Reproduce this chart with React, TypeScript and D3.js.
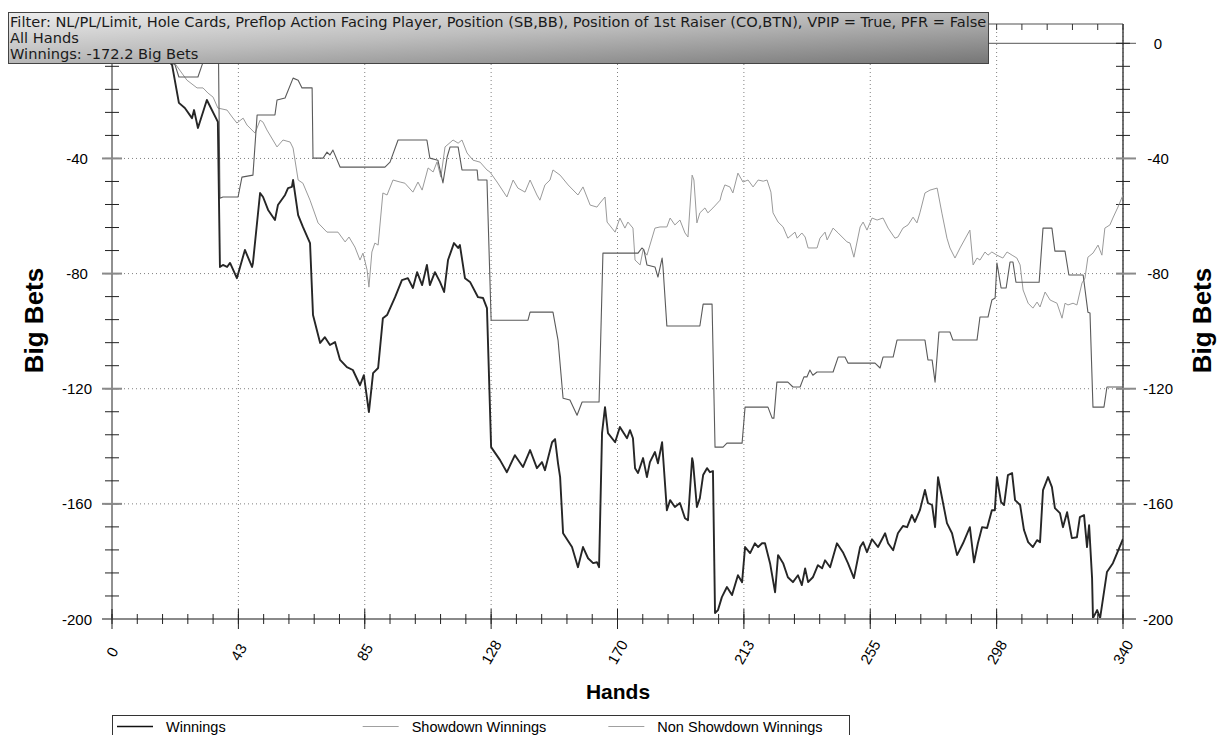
import React from "react";
import * as d3 from "d3";

type P = [number, number];

const headerLines = [
  "Filter: NL/PL/Limit, Hole Cards, Preflop Action Facing Player, Position (SB,BB), Position of 1st Raiser (CO,BTN), VPIP = True, PFR = False",
  "All Hands",
  "Winnings: -172.2 Big Bets",
];

const xTickValues = [0, 42.5, 85, 127.5, 170, 212.5, 255, 297.5, 340];
const xTickLabels = ["0", "43", "85", "128", "170", "213", "255", "298", "340"];
const yTickValues = [0, -40, -80, -120, -160, -200];
const yTickLabels = ["0", "-40", "-80", "-120", "-160", "-200"];

const seriesNames = ["Winnings", "Showdown Winnings", "Non Showdown Winnings"];

const winnings: P[] = [
  [0, 0], [4, 3], [8, -1], [12, 2], [16, -3], [20.2, -7.5], [22.5, -20.7], [24.5, -22.5], [26.9, -26.0],
  [27.6, -23.2], [28.9, -29.4], [31.9, -19.7], [35.6, -27.3], [36.3, -77.7], [37.3, -77.0], [38.7, -77.7],
  [39.7, -76.3], [42.0, -81.6], [44.7, -71.8], [47.1, -77.7], [47.4, -76.3], [49.8, -52.0], [50.8, -53.4],
  [52.5, -57.9], [54.8, -61.4], [55.8, -56.2], [58.2, -52.7], [59.2, -50.3], [60.5, -49.9], [60.9, -47.5],
  [62.6, -59.7], [64.2, -63.8], [66.6, -69.4], [67.6, -94.4], [70.0, -104.1], [71.6, -102.1], [73.3, -104.8],
  [75.0, -103.8], [76.7, -110.0], [79.0, -112.5], [81.0, -113.5], [83.4, -118.8], [84.7, -115.3],
  [86.4, -128.1], [87.8, -114.6], [89.5, -112.8], [91.1, -95.5], [92.5, -94.4], [95.2, -88.2], [97.5, -82.3],
  [99.5, -81.6], [101.2, -85.0], [102.6, -79.5], [104.3, -84.0], [105.9, -77.0], [106.9, -84.0],
  [108.6, -79.5], [110.3, -82.9], [111.7, -86.4], [113.0, -75.3], [115.0, -69.4], [116.4, -71.1],
  [117.0, -70.1], [118.7, -81.6], [120.4, -82.9], [123.1, -88.2], [124.8, -88.5], [126.1, -92.0],
  [127.5, -140.3], [130.5, -144.8], [132.8, -149.0], [135.5, -143.1], [138.2, -147.2], [140.6, -141.3],
  [142.9, -147.6], [144.6, -145.5], [145.6, -148.3], [148.0, -138.6], [149.0, -137.5], [150.0, -145.9],
  [150.7, -150.7], [151.7, -170.2], [154.7, -175.0], [156.7, -182.0], [158.4, -175.0], [160.1, -178.9],
  [161.8, -180.6], [163.1, -180.3], [163.8, -182.0], [164.8, -135.4], [165.8, -126.4], [166.8, -135.4],
  [169.2, -138.6], [170.8, -133.3], [173.2, -137.2], [174.2, -134.4], [175.2, -137.2], [175.9, -147.6],
  [176.9, -149.3], [178.6, -144.1], [179.9, -150.7], [180.9, -145.5], [182.6, -142.0], [183.6, -145.9],
  [185.0, -138.6], [186.6, -162.2], [187.7, -158.7], [189.3, -161.1], [191.0, -159.7], [192.7, -165.0],
  [193.7, -165.7], [195.1, -144.1], [195.4, -145.5], [196.7, -161.1], [197.7, -158.0], [198.8, -150.0],
  [200.1, -147.6], [201.1, -149.0], [202.1, -148.6], [202.8, -197.9], [203.8, -196.9], [205.1, -192.4],
  [206.8, -188.9], [208.5, -191.7], [210.5, -184.8], [211.9, -187.2], [212.9, -175.0], [214.6, -177.1],
  [216.2, -173.7], [217.3, -175.0], [218.6, -173.7], [219.6, -173.7], [221.3, -180.6], [223.0, -190.7],
  [224.0, -177.8], [225.7, -180.6], [227.3, -185.5], [229.0, -187.2], [230.7, -184.8], [232.0, -188.2],
  [233.1, -182.4], [234.1, -187.2], [235.7, -185.5], [237.4, -181.3], [238.8, -182.4], [239.8, -179.6],
  [241.5, -182.0], [243.8, -173.7], [245.8, -176.8], [247.5, -180.6], [249.5, -185.8], [251.6, -175.0],
  [252.6, -173.3], [253.9, -176.8], [255.6, -172.3], [257.6, -175.0], [260.0, -170.2], [261.0, -173.7],
  [262.7, -176.1], [264.3, -170.2], [266.0, -167.7], [267.4, -168.1], [269.0, -163.9], [270.0, -166.3],
  [271.7, -162.2], [273.4, -155.2], [274.4, -159.7], [275.8, -160.4], [276.8, -168.1], [277.8, -150.7],
  [279.1, -157.7], [280.8, -166.7], [282.5, -170.2], [284.2, -177.8], [286.2, -173.7], [288.5, -168.1],
  [289.9, -180.3], [291.2, -173.7], [292.6, -168.1], [294.3, -168.4], [295.9, -162.2], [296.9, -162.2],
  [297.6, -150.7], [299.0, -159.4], [300.0, -160.4], [301.3, -150.0], [302.7, -149.3], [303.7, -158.7],
  [305.4, -160.4], [306.7, -169.1], [308.1, -173.3], [309.7, -175.0], [311.1, -172.6], [312.1, -173.3],
  [313.1, -155.2], [314.8, -150.7], [316.1, -154.2], [317.1, -161.5], [318.8, -163.2], [319.8, -168.1],
  [321.2, -162.9], [322.8, -171.9], [324.5, -171.6], [325.5, -164.6], [326.9, -163.9], [327.9, -175.0],
  [328.6, -167.4], [329.6, -185.8], [329.9, -199.7], [331.3, -196.9], [332.3, -199.7], [334.6, -183.7],
  [336.6, -180.6], [340, -172.2],
];

const showdown: P[] = [
  [0, 0], [8, 0], [14, -3], [21.2, -7.5], [22.5, -11.7], [28.9, -11.7], [30.3, -7.5], [32, -3], [35.8, -3],
  [36.3, -53.8], [37.3, -53.4], [42.4, -53.4], [43.7, -46.5], [47.4, -45.8], [48.8, -24.9], [54.8, -24.9],
  [55.5, -19.7], [58.2, -19.0], [60.9, -12.1], [62.6, -12.8], [63.9, -15.5], [67.3, -15.5], [67.6, -39.9],
  [71.0, -39.9], [72.3, -37.8], [73.3, -38.8], [74.3, -37.1], [76.7, -43.0], [91.8, -43.0], [93.5, -41.3],
  [96.2, -33.6], [105.9, -33.6], [106.9, -39.9], [109.6, -40.6], [111.3, -48.5], [112.7, -39.5],
  [113.7, -36.0], [116.4, -36.0], [117.7, -44.0], [122.8, -44.0], [123.1, -47.5], [126.1, -47.5],
  [127.5, -96.2], [139.9, -96.2], [140.6, -93.4], [148.3, -93.4], [150.0, -103.1], [151.7, -123.3],
  [154.0, -123.9], [156.4, -129.2], [158.1, -124.6], [163.8, -124.6], [165.1, -72.9], [176.9, -72.9],
  [178.2, -71.1], [178.9, -71.8], [179.9, -77.0], [182.6, -77.7], [183.6, -81.2], [185.0, -74.6],
  [185.3, -77.7], [186.6, -98.2], [197.7, -98.2], [198.8, -90.6], [201.8, -90.6], [202.8, -140.3],
  [205.5, -140.3], [206.8, -138.9], [211.9, -138.9], [212.9, -126.4], [220.6, -126.4], [222.0, -130.2],
  [222.6, -130.2], [223.6, -117.7], [227.3, -117.7], [229.0, -119.4], [231.4, -119.4], [232.7, -115.9],
  [233.7, -115.9], [234.7, -113.5], [235.7, -115.3], [237.1, -114.2], [242.5, -114.2], [244.2, -109.0],
  [246.5, -109.0], [247.5, -111.1], [256.6, -111.1], [258.3, -112.8], [259.3, -109.0], [262.7, -109.0],
  [264.0, -103.1], [273.4, -103.1], [274.4, -110.0], [275.8, -110.0], [276.8, -117.7], [278.1, -100.3],
  [281.8, -100.3], [282.8, -103.1], [290.9, -103.1], [291.9, -95.1], [294.6, -95.1], [295.9, -89.2],
  [297.0, -88.5], [297.6, -76.3], [299.0, -85.0], [300.7, -85.0], [302.0, -76.0], [303.0, -76.0],
  [304.0, -83.0], [311.8, -83.0], [313.1, -64.2], [316.1, -64.2], [317.1, -72.2], [320.5, -72.2],
  [321.8, -80.5], [326.6, -80.5], [328.2, -93.4], [328.9, -93.7], [329.9, -126.4], [333.6, -126.4],
  [334.6, -119.4], [340, -119.4],
];

const nonShowdown: P[] = [
  [0, 0], [5, 2], [10, -1], [15, 1], [21.5, -7.5], [25.2, -12.8], [28.6, -15.5], [30.6, -15.5],
  [32.3, -17.3], [34.0, -18.7], [35.6, -22.5], [38.7, -23.2], [40.4, -25.6], [42.0, -27.7], [44.1, -26.0],
  [45.4, -28.4], [48.1, -31.2], [49.8, -26.7], [50.8, -27.4], [52.1, -30.1], [55.5, -36.0], [57.5, -33.6],
  [59.9, -34.3], [60.9, -36.4], [62.6, -47.5], [64.2, -48.6], [66.6, -54.5], [69.3, -62.4], [72.3, -65.6],
  [76.0, -65.6], [78.4, -69.0], [79.7, -67.3], [81.7, -70.8], [83.4, -75.3], [84.4, -72.9], [85.8, -78.8],
  [86.4, -84.7], [87.4, -72.5], [88.4, -69.4], [89.5, -70.1], [91.1, -52.0], [92.5, -52.7], [94.5, -47.5],
  [96.9, -48.2], [98.5, -48.6], [101.2, -51.7], [102.9, -48.2], [104.3, -51.0], [106.3, -43.3],
  [108.0, -44.7], [109.3, -41.2], [110.6, -46.5], [112.0, -36.0], [114.7, -33.6], [116.4, -34.7],
  [117.7, -33.6], [119.4, -38.1], [121.4, -40.6], [123.8, -41.3], [126.1, -44.0], [127.1, -44.7],
  [129.5, -48.2], [132.8, -53.4], [134.9, -47.5], [136.5, -50.3], [138.9, -51.7], [140.6, -47.5],
  [142.9, -52.7], [143.9, -54.5], [145.6, -49.2], [147.3, -47.5], [148.3, -44.0], [150.7, -45.8],
  [153.4, -49.2], [156.7, -52.7], [158.4, -49.9], [160.8, -56.2], [163.1, -56.9], [164.1, -55.5],
  [165.8, -53.4], [166.5, -62.1], [169.2, -65.6], [170.8, -60.7], [172.5, -64.2], [173.5, -62.1],
  [175.2, -64.2], [175.9, -75.3], [177.6, -77.0], [178.6, -71.8], [179.9, -73.6], [182.6, -64.2],
  [184.3, -63.8], [186.6, -63.8], [187.7, -60.7], [189.3, -63.1], [191.0, -61.4], [192.7, -65.9],
  [193.7, -67.3], [195.1, -45.8], [195.7, -47.5], [196.7, -62.4], [197.7, -58.9], [199.4, -57.2],
  [200.4, -58.9], [202.1, -57.2], [204.5, -54.5], [205.1, -52.0], [206.1, -49.2], [207.8, -49.9],
  [208.8, -52.0], [210.5, -45.1], [212.2, -48.2], [213.9, -47.5], [215.6, -49.9], [217.3, -47.5],
  [219.0, -47.9], [220.3, -47.5], [221.6, -51.7], [222.3, -58.9], [224.0, -62.1], [225.7, -63.8],
  [227.3, -67.7], [229.7, -65.6], [230.4, -67.7], [232.0, -65.9], [233.1, -67.3], [234.1, -71.1],
  [237.1, -71.1], [238.1, -67.7], [239.8, -65.6], [240.5, -68.3], [242.5, -64.2], [244.2, -65.9],
  [247.2, -69.0], [248.2, -69.4], [249.5, -74.3], [251.6, -63.8], [252.6, -62.1], [253.9, -64.9],
  [255.6, -60.7], [257.3, -61.4], [259.3, -60.7], [261.0, -64.2], [263.3, -67.7], [264.3, -67.3],
  [266.0, -64.2], [267.7, -63.1], [269.4, -60.4], [270.7, -62.4], [271.7, -58.9], [273.4, -52.0],
  [275.1, -51.0], [277.5, -50.3], [279.1, -59.0], [280.8, -67.7], [281.8, -71.1], [283.5, -74.6],
  [285.2, -71.1], [288.5, -64.9], [289.6, -77.0], [290.9, -74.6], [291.9, -75.3], [293.6, -72.5],
  [294.6, -73.6], [295.9, -72.5], [297.6, -73.6], [299.6, -74.6], [301.0, -72.5], [302.7, -73.6],
  [304.3, -74.6], [305.4, -77.0], [306.4, -85.7], [308.1, -90.3], [309.7, -92.0], [311.1, -89.9],
  [312.1, -91.6], [313.8, -86.4], [315.5, -89.2], [317.8, -90.3], [319.5, -95.5], [320.5, -90.3],
  [321.5, -90.9], [323.2, -90.3], [324.5, -90.9], [326.2, -83.3], [327.2, -81.6], [328.2, -74.3],
  [329.9, -72.9], [331.6, -70.1], [332.9, -73.6], [333.9, -64.2], [335.6, -63.1], [336.6, -60.7],
  [338.3, -56.9], [340, -52.7],
];

const W = 1220;
const H = 735;
const PL = 112;
const PR = 1123;
const Y0 = 43.3;
const YB = 619;
const Y_TOP_VALUE = 6.7;

export default function App() {
  const x = d3.scaleLinear().domain([0, 340]).range([PL, PR]);
  const y = d3.scaleLinear().domain([-200, 0]).range([YB, Y0]);
  const yTop = y(Y_TOP_VALUE);
  const line = d3
    .line<P>()
    .x((d) => x(d[0]))
    .y((d) => y(d[1]));

  const xMinor: number[] = [];
  for (let i = 0; i <= 40; i++) xMinor.push((340 / 40) * i);
  const yMinor: number[] = [];
  for (let v = -200; v <= 0; v += 8) yMinor.push(v);

  const series = [
    { name: seriesNames[0], data: winnings, color: "#262626", width: 1.9 },
    { name: seriesNames[1], data: showdown, color: "#5a5a5a", width: 1.1 },
    { name: seriesNames[2], data: nonShowdown, color: "#9a9a9a", width: 1 },
  ];
  const drawOrder = [2, 1, 0];

  const legendX = 112;
  const legendW = 737;
  const legendY = 715;
  const entryW = legendW / 3;

  return (
    <svg
      width={W}
      height={H}
      style={{ position: "absolute", left: 0, top: 0, background: "#fff" }}
      fontFamily="'Liberation Sans', Arial, sans-serif"
    >
      <defs>
        <linearGradient id="hdr" x1="0" y1="0" x2="1" y2="1">
          <stop offset="0" stopColor="#ececec" />
          <stop offset="0.45" stopColor="#bdbdbd" />
          <stop offset="1" stopColor="#767676" />
        </linearGradient>
        <clipPath id="plotClip">
          <rect x={PL} y={yTop} width={PR - PL} height={YB - yTop + 2} />
        </clipPath>
      </defs>
      <rect x={0} y={0} width={W} height={H} fill="#fff" />

      {/* grid */}
      {xTickValues.slice(1).map((v, i) => (
        <line key={"gx" + i} x1={x(v)} x2={x(v)} y1={yTop} y2={YB} stroke="#808080" strokeDasharray="1,3" />
      ))}
      {yTickValues.slice(1, 5).map((v, i) => (
        <line key={"gy" + i} x1={PL} x2={PR} y1={y(v)} y2={y(v)} stroke="#808080" strokeDasharray="1,3" />
      ))}

      {/* zero line */}
      <line x1={PL - 10} x2={PR + 13} y1={y(0)} y2={y(0)} stroke="#555" strokeWidth={1} />

      {/* top axis */}
      <line x1={PL} x2={PR} y1={yTop} y2={yTop} stroke="#8a8a8a" strokeWidth={1.5} />
      {xMinor.map((v, i) => (
        <line key={"tt" + i} x1={x(v)} x2={x(v)} y1={yTop} y2={yTop + 6} stroke="#333" />
      ))}

      {/* left axis */}
      <line x1={PL} x2={PL} y1={yTop} y2={YB} stroke="#222" strokeWidth={1} />
      {yMinor.map((v, i) => (
        <line key={"ly" + i} x1={PL - 7} x2={PL + 7} y1={y(v)} y2={y(v)} stroke="#222" />
      ))}
      {/* right axis */}
      <line x1={PR} x2={PR} y1={yTop} y2={YB} stroke="#444" strokeWidth={1.5} />
      {yMinor.map((v, i) => (
        <line key={"ry" + i} x1={PR - 7} x2={PR + 7} y1={y(v)} y2={y(v)} stroke="#222" />
      ))}
      {yTickValues.slice(1, 5).map((v, i) => (
        <g key={"my" + i}>
          <line x1={PL - 10} x2={PL + 10} y1={y(v)} y2={y(v)} stroke="#8a8a8a" strokeWidth={2} />
          <line x1={PR - 7} x2={PR + 13} y1={y(v)} y2={y(v)} stroke="#8a8a8a" strokeWidth={2} />
        </g>
      ))}

      {/* series */}
      <g clipPath="url(#plotClip)">
        {drawOrder.map((k) => (
          <path
            key={"s" + k}
            d={line(series[k].data) || ""}
            fill="none"
            stroke={series[k].color}
            strokeWidth={series[k].width}
            strokeLinejoin="round"
          />
        ))}
      </g>

      {/* bottom axis */}
      <line x1={PL - 10} x2={PR + 13} y1={YB} y2={YB} stroke="#8a8a8a" strokeWidth={2} />
      {xMinor.map((v, i) => (
        <line key={"bx" + i} x1={x(v)} x2={x(v)} y1={YB - 5} y2={YB + 5} stroke="#222" />
      ))}
      {xTickValues.map((v, i) => (
        <line key={"bX" + i} x1={x(v)} x2={x(v)} y1={YB - 10} y2={YB + 10} stroke="#222" />
      ))}

      {/* y tick labels (left "0" is hidden by the header box in the reference) */}
      {yTickValues.map((v, i) => (
        <g key={"yl" + i} fontSize={15} fill="#000">
          {i > 0 && (
            <text x={77} y={y(v)} textAnchor="middle" dominantBaseline="central">
              {yTickLabels[i]}
            </text>
          )}
          <text x={1158} y={y(v)} textAnchor="middle" dominantBaseline="central">
            {yTickLabels[i]}
          </text>
        </g>
      ))}
      {/* x tick labels */}
      {xTickValues.map((v, i) => (
        <text
          key={"xl" + i}
          transform={`translate(${x(v)},652) rotate(-60)`}
          textAnchor="middle"
          dominantBaseline="central"
          fontSize={15}
          fill="#000"
        >
          {xTickLabels[i]}
        </text>
      ))}

      {/* axis titles */}
      <text transform="translate(43,320.5) rotate(-90)" textAnchor="middle" fontSize={26} fontWeight="bold">
        Big Bets
      </text>
      <text transform="translate(1211,320.5) rotate(-90)" textAnchor="middle" fontSize={26} fontWeight="bold">
        Big Bets
      </text>
      <text x={618} y={699} textAnchor="middle" fontSize={21} fontWeight="bold">
        Hands
      </text>

      {/* header box */}
      <rect x={8.5} y={12.5} width={980} height={51} fill="url(#hdr)" stroke="#444" strokeWidth={1} />
      {headerLines.map((t, i) => (
        <text
          key={"h" + i}
          x={10}
          y={26.5 + i * 16.2}
          fontFamily="'DejaVu Sans', Verdana, sans-serif"
          fontSize={14.6}
          fill="#1a1a1a"
        >
          {t}
        </text>
      ))}

      {/* legend */}
      <rect x={legendX + 0.5} y={legendY + 0.5} width={legendW} height={30} fill="#fff" stroke="#333" />
      {series.map((s, i) => (
        <g key={"lg" + i}>
          <line
            x1={legendX + 5 + i * entryW}
            x2={legendX + 41 + i * entryW}
            y1={726.5}
            y2={726.5}
            stroke={i === 0 ? "#111" : "#a0a0a0"}
            strokeWidth={i === 0 ? 1.5 : 1}
          />
          <text x={legendX + 54 + i * entryW} y={732} fontSize={14.5} fill="#000">
            {s.name}
          </text>
        </g>
      ))}
    </svg>
  );
}
